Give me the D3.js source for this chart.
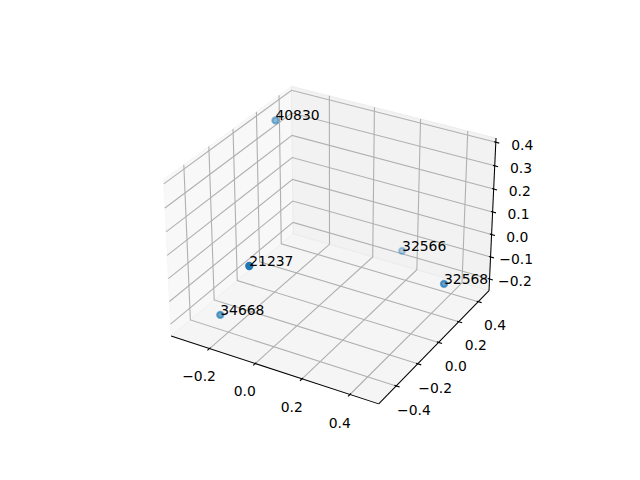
<!DOCTYPE html>
<html>
<head>
  <meta charset="utf-8">
  <title>3D Scatter</title>
  <script src="https://d3js.org/d3.v7.min.js"></script>
  <style>
    body { margin: 0; background: #fff; }
    text { font-family: "DejaVu Sans", sans-serif; font-size: 13.9px; fill: #000; }
  </style>
</head>
<body>
  <svg id="chart"></svg>

  <script>
    // Data
    const labels = ["40830", "21237", "34668", "32566", "32568"];
    const xValues = [-0.315, -0.052, -0.255, 0.162, 0.461];
    const yValues = [0.255, -0.489, -0.363, 0.4445, 0.173];
    const zValues = [0.375, 0.121, -0.211, -0.149, -0.090];

    // Tick values
    const xTicks = [-0.2, 0.0, 0.2, 0.4];
    const yTicks = [-0.4, -0.2, 0.0, 0.2, 0.4];
    const zTicks = [-0.2, -0.1, 0.0, 0.1, 0.2, 0.3, 0.4];

    const width = 640;
    const height = 480;

    const svg = d3.select("#chart")
                  .attr("width", width)
                  .attr("height", height);

    svg.append("rect").attr("width", width).attr("height", height).attr("fill", "#fff");

    // Box aspect (4,4,3) like matplotlib
    const norm = Math.hypot(4, 4, 3);
    const box = [4, 4, 3].map(a => a * 1.8294640721620434 / norm);

    // Data ranges with a 5% margin
    function padded(vals) {
      const [a, b] = d3.extent(vals);
      const m = (b - a) * 0.05;
      return [a - m, b + m];
    }

    const xScale = d3.scaleLinear().domain(padded(xValues)).range([0, box[0]]);
    const yScale = d3.scaleLinear().domain(padded(yValues)).range([0, box[1]]);
    const zScale = d3.scaleLinear().domain(padded(zValues)).range([0, box[2]]);
    const scales = [xScale, yScale, zScale];

    // Camera
    const elev = 30 * Math.PI / 180, azim = -60 * Math.PI / 180, dist = 10;
    const R = box.map(a => a / 2);
    const ps = [Math.cos(elev) * Math.cos(azim), Math.cos(elev) * Math.sin(azim), Math.sin(elev)];
    const eye = R.map((r, i) => r + dist * ps[i]);
    const cross = (a, b) => [a[1] * b[2] - a[2] * b[1], a[2] * b[0] - a[0] * b[2], a[0] * b[1] - a[1] * b[0]];
    const dot = (a, b) => a[0] * b[0] + a[1] * b[1] + a[2] * b[2];
    const wv = ps;
    let uv = cross([0, 0, 1], wv);
    const un = Math.hypot(...uv);
    uv = uv.map(c => c / un);
    const vv = cross(wv, uv);

    // 2D screen scales (square axes box)
    const side = Math.min(0.775 * width, 0.77 * height);
    const axLeft = 0.125 * width + (0.775 * width - side) / 2;
    const axTop = height - 0.88 * height + (0.77 * height - side) / 2;
    const sx = d3.scaleLinear().domain([-0.095, 0.09]).range([axLeft, axLeft + side]);
    const sy = d3.scaleLinear().domain([-0.095, 0.09]).range([axTop + side, axTop]);

    function project(p) {
      const d = [p[0] - eye[0], p[1] - eye[1], p[2] - eye[2]];
      const zv = dot(wv, d);
      return [sx(dot(uv, d) / -zv), sy(dot(vv, d) / -zv), zv];
    }

    // Padded box bounds in world units
    const lo = box.map(a => -a / 48);
    const hi = box.map(a => a + a / 48);
    const delta = box.map(a => a / 12);
    const labelDelta = delta.map(d => (3.5 + 8) * (48 / (2 * 72 * side / 100)) * d);

    const line = d3.line().x(d => project(d)[0]).y(d => project(d)[1]);

    // Panes: x=min, y=max, z=min
    const panes = [
      { color: "rgb(242,242,242)", pts: [[lo[0], lo[1], lo[2]], [lo[0], hi[1], lo[2]], [lo[0], hi[1], hi[2]], [lo[0], lo[1], hi[2]]] },
      { color: "rgb(230,230,230)", pts: [[lo[0], hi[1], lo[2]], [hi[0], hi[1], lo[2]], [hi[0], hi[1], hi[2]], [lo[0], hi[1], hi[2]]] },
      { color: "rgb(236,236,236)", pts: [[lo[0], lo[1], lo[2]], [hi[0], lo[1], lo[2]], [hi[0], hi[1], lo[2]], [lo[0], hi[1], lo[2]]] }
    ];
    svg.append("g").selectAll("path")
       .data(panes)
       .enter()
       .append("path")
       .attr("d", d => line(d.pts) + "Z")
       .attr("fill", d => d.color)
       .attr("fill-opacity", 0.5)
       .attr("stroke", d => d.color)
       .attr("stroke-opacity", 0.5)
       .attr("stroke-width", 1);

    // Grid lines
    const gridLines = [];
    xTicks.forEach(t => {
      const x = xScale(t);
      gridLines.push([[x, lo[1], lo[2]], [x, hi[1], lo[2]], [x, hi[1], hi[2]]]);
    });
    yTicks.forEach(t => {
      const y = yScale(t);
      gridLines.push([[lo[0], y, hi[2]], [lo[0], y, lo[2]], [hi[0], y, lo[2]]]);
    });
    zTicks.forEach(t => {
      const z = zScale(t);
      gridLines.push([[hi[0], hi[1], z], [lo[0], hi[1], z], [lo[0], lo[1], z]]);
    });
    svg.append("g").selectAll("path")
       .data(gridLines)
       .enter()
       .append("path")
       .attr("d", line)
       .attr("fill", "none")
       .attr("stroke", "#b0b0b0")
       .attr("stroke-width", 1.1);

    // Axes: edge position, tick direction and outward sign
    const axes = [
      { index: 0, ticks: xTicks, edge: [null, lo[1], lo[2]], tickdir: 1, sign: -1 },
      { index: 1, ticks: yTicks, edge: [hi[0], null, lo[2]], tickdir: 0, sign: 1 },
      { index: 2, ticks: zTicks, edge: [hi[0], hi[1], null], tickdir: 0, sign: 1 }
    ];
    const fmt = d3.format(".1f");

    axes.forEach(ax => {
      const g = svg.append("g");
      const p0 = ax.edge.slice(), p1 = ax.edge.slice();
      p0[ax.index] = lo[ax.index];
      p1[ax.index] = hi[ax.index];
      g.append("path")
       .attr("d", line([p0, p1]))
       .attr("stroke", "#000")
       .attr("stroke-width", 1.04)
       .attr("fill", "none");

      ax.ticks.forEach(t => {
        const pos = ax.edge.slice();
        pos[ax.index] = scales[ax.index](t);
        const a = pos.slice(), b = pos.slice();
        a[ax.tickdir] = pos[ax.tickdir] + ax.sign * 0.2 * delta[ax.tickdir];
        b[ax.tickdir] = pos[ax.tickdir] - ax.sign * 0.1 * delta[ax.tickdir];
        g.append("path")
         .attr("d", line([a, b]))
         .attr("stroke", "#000")
         .attr("stroke-width", 1.1);

        const lp = pos.map((c, i) => i === ax.index ? c : c + Math.sign(c - R[i]) * labelDelta[i]);
        const s = project(lp);
        g.append("text")
         .attr("x", s[0])
         .attr("y", s[1] + 10.6)
         .attr("text-anchor", "middle")
         .text(fmt(t));
      });
    });

    // Points, far ones first, with depth shading
    const pts = labels.map((label, i) => {
      const s = project([xScale(xValues[i]), yScale(yValues[i]), zScale(zValues[i])]);
      return { label, x: s[0], y: s[1], depth: s[2] };
    });
    const dExt = d3.extent(pts, d => d.depth);
    const alpha = d3.scaleLinear().domain([dExt[1], dExt[0]]).range([1, 0.3]);
    pts.sort((a, b) => a.depth - b.depth);

    svg.append("g").selectAll("circle")
       .data(pts)
       .enter()
       .append("circle")
       .attr("cx", d => d.x)
       .attr("cy", d => d.y)
       .attr("r", 3.1)
       .attr("fill", "#1f77b4")
       .attr("fill-opacity", d => alpha(d.depth))
       .attr("stroke", "#1f77b4")
       .attr("stroke-opacity", d => alpha(d.depth))
       .attr("stroke-width", 2.08);

    svg.append("g").selectAll("text")
       .data(pts)
       .enter()
       .append("text")
       .attr("x", d => d.x)
       .attr("y", d => d.y)
       .text(d => d.label);
  </script>
</body>
</html>
